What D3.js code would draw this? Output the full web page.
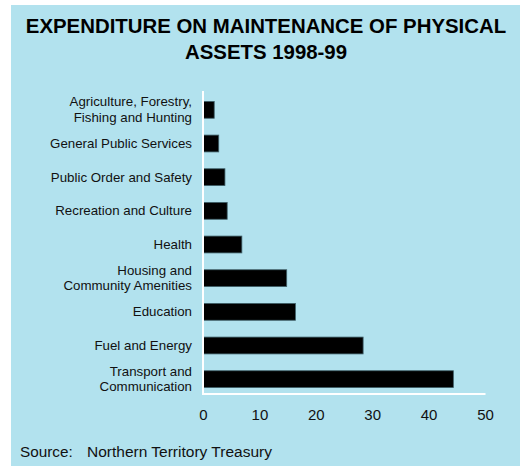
<!DOCTYPE html>
<html>
<head>
<meta charset="utf-8">
<script src="https://cdn.jsdelivr.net/npm/d3@7"></script>
<style>
  body { margin: 0; background: #fff; }
  svg { display: block; font-family: "Liberation Sans", Arial, sans-serif; }
</style>
</head>
<body>
<script>
// categories, top to bottom (multi-line labels split with \n)
const categories = [
  "Agriculture, Forestry,\nFishing and Hunting",
  "General Public Services",
  "Public Order and Safety",
  "Recreation and Culture",
  "Health",
  "Housing and\nCommunity Amenities",
  "Education",
  "Fuel and Energy",
  "Transport and\nCommunication"
];
const values = [1.9, 2.7, 3.8, 4.2, 6.8, 14.75, 16.3, 28.3, 44.3];
const xTicks = [0, 10, 20, 30, 40, 50];
const titleLines = ["EXPENDITURE ON MAINTENANCE OF PHYSICAL", "ASSETS 1998-99"];
const sourceText = "Northern Territory Treasury";

const width = 520, height = 466;
const data = categories.map((c, i) => ({name: c, value: values[i]}));

const svg = d3.select("body").append("svg")
    .attr("width", width)
    .attr("height", height)
    .attr("viewBox", [0, 0, width, height]);

// panel background
svg.append("rect")
    .attr("x", 11).attr("y", 5)
    .attr("width", width - 11).attr("height", height - 5)
    .attr("fill", "#b2e2ee");

// title
svg.append("g")
    .selectAll("text")
    .data(titleLines)
    .join("text")
      .attr("x", 266)
      .attr("y", (d, i) => 33 + i * 26)
      .attr("text-anchor", "middle")
      .attr("font-weight", "bold")
      .attr("font-size", 20.4)
      .attr("fill", "#000")
      .text(d => d);

const x = d3.scaleLinear([0, 50], [203.5, 485.5]);
const y = d3.scaleBand(categories, [93, 396])
    .paddingInner(0.5)
    .paddingOuter(0.25);

// bars
svg.append("g")
    .selectAll("rect")
    .data(data)
    .join("rect")
      .attr("x", x(0))
      .attr("y", d => y(d.name))
      .attr("width", d => x(d.value) - x(0))
      .attr("height", y.bandwidth())
      .attr("fill", "#000")
      .attr("stroke", "#3f5f68")
      .attr("stroke-width", 0.8);

// category labels
const labels = svg.append("g")
    .attr("font-size", 13.3)
    .attr("fill", "#111")
    .attr("text-anchor", "end")
  .selectAll("text")
  .data(data)
  .join("text")
    .attr("x", 192)
    .attr("y", d => y(d.name) + y.bandwidth() / 2);

labels.each(function(d) {
  const lines = d.name.split("\n");
  const t = d3.select(this);
  lines.forEach((line, i) => {
    t.append("tspan")
      .attr("x", 192)
      .attr("dy", i === 0 ? (lines.length === 1 ? 4.5 : -3.5) : 15.5)
      .text(line);
  });
});

// axis lines (white)
svg.append("line")
    .attr("x1", x(0) - 0.5).attr("x2", x(0) - 0.5)
    .attr("y1", 91).attr("y2", 395)
    .attr("stroke", "#fff").attr("stroke-width", 2);
svg.append("line")
    .attr("x1", x(0) - 1.5).attr("x2", x(50))
    .attr("y1", 394).attr("y2", 394)
    .attr("stroke", "#fff").attr("stroke-width", 2);

// tick labels
svg.append("g")
    .selectAll("text")
    .data(xTicks)
    .join("text")
      .attr("x", d => x(d))
      .attr("y", 420)
      .attr("text-anchor", "middle")
      .attr("font-size", 15)
      .attr("fill", "#111")
      .text(d => d);

// source
svg.append("text")
    .attr("x", 20).attr("y", 457)
    .attr("font-size", 15.3)
    .attr("fill", "#111")
    .text("Source:");
svg.append("text")
    .attr("x", 87).attr("y", 457)
    .attr("font-size", 15.5)
    .attr("fill", "#111")
    .text(sourceText);
</script>
</body>
</html>
